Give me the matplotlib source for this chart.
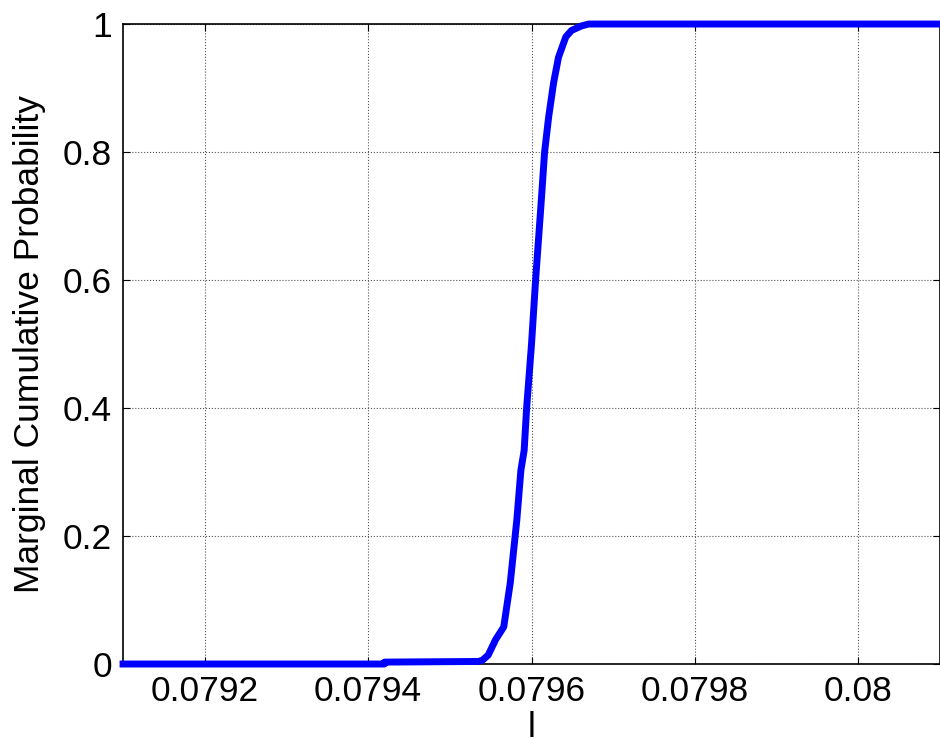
import matplotlib.pyplot as plt
from matplotlib.ticker import FuncFormatter

plt.rcParams['font.family'] = ['Liberation Sans', 'DejaVu Sans']

# CDF values
l_vals = [0.0791, 0.07942, 0.07942, 0.079535, 0.079540, 0.079547, 0.079556,
          0.079566, 0.079574, 0.079582, 0.079587, 0.079591, 0.079594,
          0.0796, 0.079605, 0.079612, 0.079616, 0.079621,
          0.079627, 0.079633, 0.079642, 0.079649, 0.079661, 0.07967, 0.0801]
cdf_vals = [0.0, 0.0, 0.003, 0.004, 0.006, 0.014, 0.038,
            0.058, 0.127, 0.225, 0.303, 0.334, 0.40,
            0.50, 0.60, 0.725, 0.80, 0.855,
            0.908, 0.948, 0.98, 0.99, 0.997, 1.0, 1.0]

x_ticks = [0.0792, 0.0794, 0.0796, 0.0798, 0.08]
y_ticks = [0, 0.2, 0.4, 0.6, 0.8, 1]

fig = plt.figure(figsize=(9.4, 7.44), dpi=100)
ax = fig.add_axes([0.1309, 0.1075, 0.8691, 0.8602])

ax.plot(l_vals, cdf_vals, color='#0000ff', linewidth=5, clip_on=False,
        zorder=5, solid_joinstyle='round')

ax.set_xlim(0.0791, 0.0801)
ax.set_ylim(0, 1)
ax.set_xticks(x_ticks)
ax.set_yticks(y_ticks)
ax.xaxis.set_major_formatter(FuncFormatter(lambda v, p: '%g' % round(v, 6)))
ax.yaxis.set_major_formatter(FuncFormatter(lambda v, p: '%g' % round(v, 6)))
ax.tick_params(direction='in', length=5, width=0.8, top=True, right=True,
               labelsize=25.5, pad=8)
ax.grid(True, linestyle=':', color='#555555', linewidth=0.8)

for s in ax.spines.values():
    s.set_linewidth(1.2)

ax.set_xlabel('l', fontsize=25.5, labelpad=2)
ax.set_ylabel('Marginal Cumulative Probability', fontsize=25.5, labelpad=12)

fig.savefig('out.png', dpi=100)
